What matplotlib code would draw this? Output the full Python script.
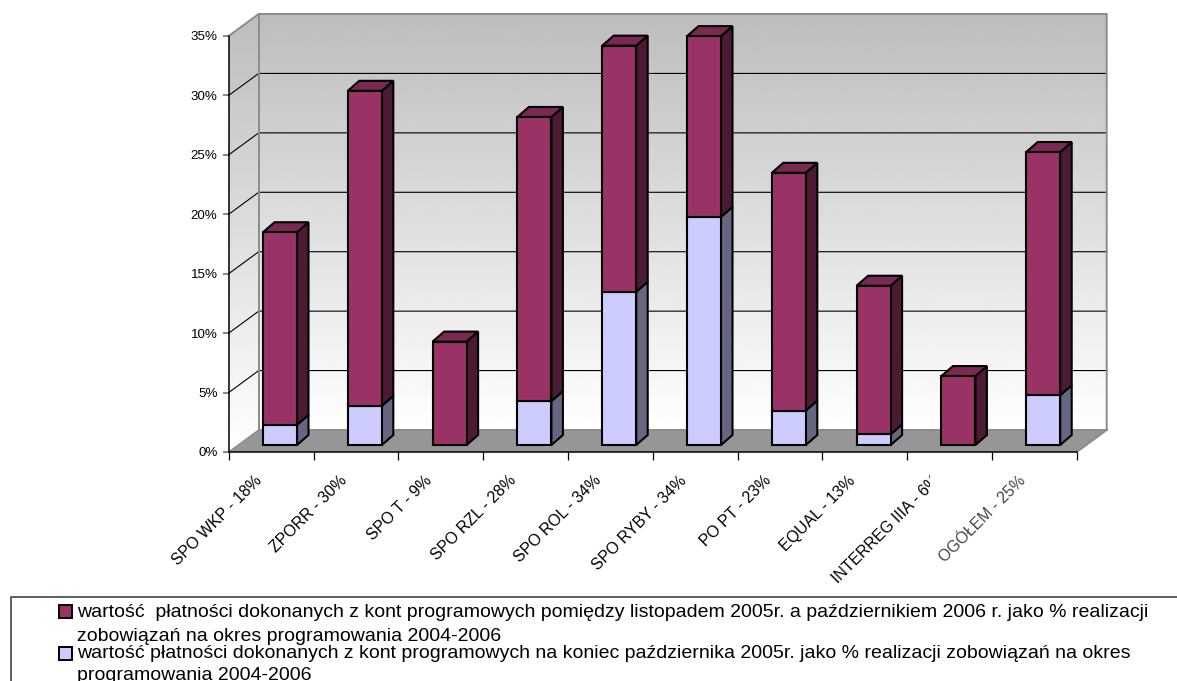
import numpy as np
import matplotlib
matplotlib.use("Agg")
import matplotlib.pyplot as plt
from matplotlib.patches import Polygon, Rectangle
from matplotlib.lines import Line2D
from matplotlib.transforms import Bbox

categories = ["SPO WKP - 18%", "ZPORR - 30%", "SPO T - 9%", "SPO RZL - 28%", "SPO ROL - 34%",
              "SPO RYBY - 34%", "PO PT - 23%", "EQUAL - 13%", "INTERREG IIIA - 6%", "OGÓŁEM - 25%"]
lower_values = [1.7, 3.3, 0.0, 3.7, 12.9, 19.2, 2.9, 0.9, 0.0, 4.2]
upper_values = [16.2, 26.5, 8.7, 23.9, 20.7, 15.2, 20.0, 12.5, 5.8, 20.45]
y_ticks = [0, 5, 10, 15, 20, 25, 30, 35]
legend_lines = [
    "wartość  płatności dokonanych z kont programowych pomiędzy listopadem 2005r. a październikiem 2006 r. jako % realizacji",
    "zobowiązań na okres programowania 2004-2006",
    "wartość płatności dokonanych z kont programowych na koniec października 2005r. jako % realizacji zobowiązań na okres",
    "programowania 2004-2006",
]

W, H = 1177, 681
plt.rcParams["font.family"] = ["Liberation Sans", "DejaVu Sans"]
fig = plt.figure(figsize=(W / 100, H / 100), dpi=100)
ax = fig.add_axes([228.7 / W, (H - 452) / H, 848 / W, 416 / H])
ax.set_facecolor("none")
UX = 1 / 84.8      # x data units per pixel
UY = 1 / 11.886    # y data units per pixel
DX, DY = 30 * UX, 22 * UY           # plot depth
BX, BY = 11.5 * UX, 10 * UY         # bar depth
XMAX, YMAX = len(categories), y_ticks[-1]

# Walls
grad = np.linspace(0.74, 1.0, 256).reshape(-1, 1)
back = ax.imshow(grad, cmap="gray", vmin=0, vmax=1, aspect="auto", zorder=1,
                 extent=[DX, XMAX + DX, DY, YMAX + DY], origin="upper")
back.set_clip_on(False)
side = ax.imshow(grad, cmap="gray", vmin=0, vmax=1, aspect="auto", zorder=1,
                 extent=[0, DX, 0, YMAX + DY], origin="upper")
side_poly = Polygon([(0, 0), (DX, DY), (DX, YMAX + DY), (0, YMAX)], closed=True,
                    transform=ax.transData, fc="none", ec="none")
ax.add_patch(side_poly)
side.set_clip_path(side_poly)
side.set_clip_box(fig.bbox)
ax.add_patch(Polygon([(0, 0), (XMAX, 0), (XMAX + DX, DY), (DX, DY)], closed=True,
                     fc="#969696", ec="none", zorder=2, clip_on=False))
# Grid
for t in y_ticks[1:-1]:
    ax.plot([0, DX, XMAX + DX], [t, t + DY, t + DY], color="black", lw=0.8, zorder=2, clip_on=False)
wall = dict(color="#8c8c8c", lw=1.4, zorder=2.5, clip_on=False, solid_joinstyle="miter")
ax.plot([0, DX, XMAX + DX, XMAX + DX, XMAX], [YMAX, YMAX + DY, YMAX + DY, DY, 0], **wall)
ax.plot([DX, DX, XMAX + DX], [YMAX + DY, DY, DY], **wall)
ax.plot([0, DX], [0, DY], color="#8c8c8c", lw=1.0, zorder=2.5, clip_on=False)

# Bars
BAR_W = 34 * UX
BAR_OFF = 34.3 * UX
BASE = 7 * UY


def box(x, y0, h, front, sidec, top):
    kw = dict(closed=True, ec="black", lw=1.5, joinstyle="miter", clip_on=False, zorder=3)
    y1 = y0 + h
    ax.add_patch(Polygon([(x + BAR_W, y0), (x + BAR_W + BX, y0 + BY), (x + BAR_W + BX, y1 + BY),
                          (x + BAR_W, y1)], fc=sidec, **kw))
    ax.add_patch(Polygon([(x, y1), (x + BX, y1 + BY), (x + BAR_W + BX, y1 + BY),
                          (x + BAR_W, y1)], fc=top, **kw))
    ax.add_patch(Polygon([(x, y0), (x + BAR_W, y0), (x + BAR_W, y1), (x, y1)], fc=front, **kw))


for i, (lo, up) in enumerate(zip(lower_values, upper_values)):
    x = i + BAR_OFF
    if lo > 0:
        box(x, BASE, lo, "#ccccff", "#666680", "#a3a3cc")
    box(x, BASE + lo, up, "#993366", "#4d1a33", "#7a2952")

# Axes
ax.set_xlim(0, XMAX)
ax.set_ylim(0, YMAX)
for s in ("top", "right"):
    ax.spines[s].set_visible(False)
for s in ("left", "bottom"):
    ax.spines[s].set_linewidth(1.1)
    ax.spines[s].set_zorder(2.8)
ax.set_yticks(y_ticks)
ax.set_yticklabels([f"{t}%" for t in y_ticks], fontsize=9.6, color="black")
ax.tick_params(axis="y", length=4, width=1.1, color="#666666", pad=4)
ax.set_xticks(np.arange(XMAX + 1))
ax.set_xticklabels([])
ax.tick_params(axis="x", length=5.5, width=0.9, color="black")

# Rotated category labels
for i, c in enumerate(categories):
    t = ax.annotate(c, xy=(i + 0.5, 0), xycoords="data", xytext=(-12, -15),
                    textcoords="offset points", rotation=45, ha="right", va="top",
                    rotation_mode="anchor", fontsize=11.4, annotation_clip=False,
                    color="#444444" if i == XMAX - 1 else "black")
    if i == 8:
        t.set_clip_box(Bbox([[0, 0], [930, H]]))
        t.set_clip_on(True)

# Legend
fig.add_artist(Line2D([1177 / W, 11 / W, 11 / W], [1 - 597 / H, 1 - 597 / H, 0],
                      color="#444444", lw=1.2))
for y, col in ((605, "#993366"), (647, "#ccccff")):
    fig.add_artist(Rectangle((59 / W, 1 - (y + 13) / H), 12.5 / W, 13 / H, transform=fig.transFigure,
                             fc=col, ec="black", lw=1.4))
for line, y in zip(legend_lines, (617, 641, 658, 680)):
    fig.text(77 / W, 1 - y / H, line, fontsize=14.0, va="baseline", ha="left", color="black")

fig.savefig("out.png", dpi=100)
